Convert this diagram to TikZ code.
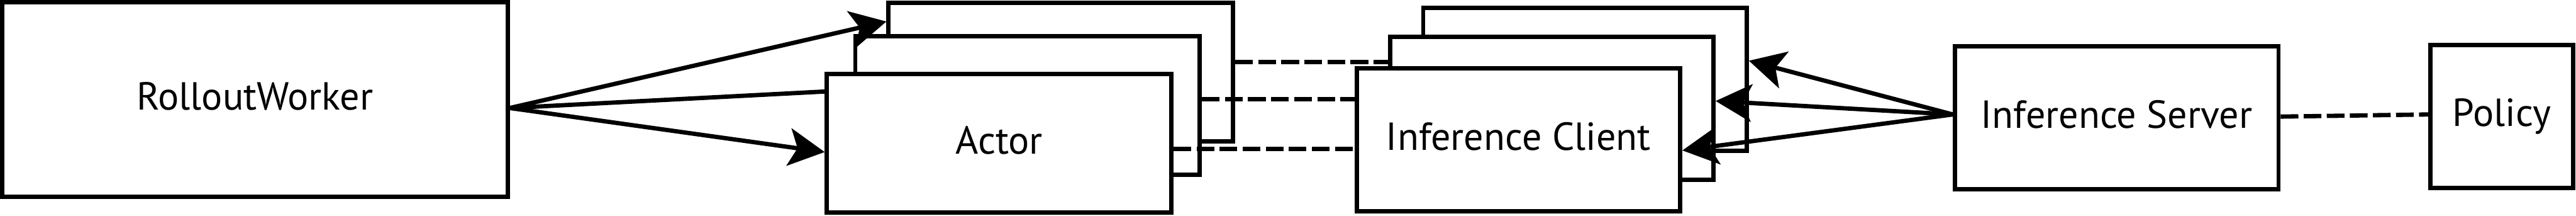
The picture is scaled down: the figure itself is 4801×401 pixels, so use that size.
\documentclass[tikz,border=0pt]{standalone}
\usepackage{fontspec}
\setmainfont{PT Sans}
\usetikzlibrary{arrows.meta,calc}
\begin{document}
\begin{tikzpicture}[x=0.25pt,y=-0.25pt,
  box/.style={draw, line width=2pt, fill=white, inner sep=0pt, font=\fontsize{18.2}{22}\selectfont},
  lift/.style={text depth=3pt},
  actorbox/.style={box, minimum width=160.5pt, minimum height=64.5pt},
  clientbox/.style={box, minimum width=150.75pt, minimum height=66.5pt},
  flow/.style={line width=2pt, -{Stealth[length=16.75pt,width=17.5pt,inset=4pt]}},
  link/.style={line width=2pt, dash pattern=on 8.25pt off 2.5pt}]
\useasboundingbox (0,0) rectangle (4801,401);
\node[box, lift, minimum width=235.5pt, minimum height=90.5pt] (rw) at (475,185) {RolloutWorker};
% back layer
\node[actorbox] (a3) at (1977,134) {};
\node[clientbox] (c3) at (2954,148) {};
\draw[link] ($(a3.east)+(0,-19)$) -- ($(c3.west)+(0,-33)$);
% middle layer
\node[actorbox] (a2) at (1915,196) {};
\node[clientbox] (c2) at (2892,202) {};
\draw[link] ($(a2.east)+(0,-11)$) -- ($(c2.west)+(0,-17)$);
\node[clientbox, lift] (is) at (3945,219) {Inference Server};
\draw[flow] ($(rw.east)+(0,16)$) -- ($(a3.west)+(0,-94)$);
\draw[flow] ($(rw.east)+(0,16)$) -- ($(a2.west)+(30,-30)$);
\draw[flow] ($(is.west)+(0,-6)$) -- ($(c3.east)+(0,-35)$);
\draw[flow] ($(is.west)+(0,-6)$) -- ($(c2.east)+(0,-14)$);
% front layer
\node[actorbox, lift] (a1) at (1862,267) {Actor};
\node[clientbox, lift] (c1) at (2830,260) {Inference Client};
\draw[link] ($(a1.east)+(0,10)$) -- ($(c1.west)+(0,17)$);
\draw[flow] ($(rw.east)+(0,16)$) -- ($(a1.west)+(0,16)$);
\draw[flow] ($(is.west)+(0,-6)$) -- ($(c1.east)+(0,20)$);
\node[box, minimum width=66.5pt, minimum height=66.5pt] (pol) at (4663,217) {Policy};
\draw[link] ($(is.east)+(0,-2)$) -- ($(pol.west)+(0,-4)$);
\end{tikzpicture}
\end{document}
